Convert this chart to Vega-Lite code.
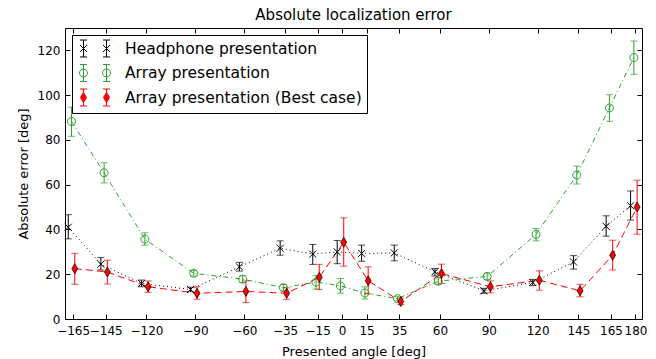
{
  "$schema": "https://vega.github.io/schema/vega-lite/v6.json",
  "width": 577,
  "height": 291,
  "autosize": {"type": "none"},
  "padding": {"left": 65, "top": 28, "right": 14, "bottom": 40},
  "config": {
    "font": "DejaVu Sans",
    "view": {"stroke": "black", "strokeWidth": 1},
    "axis": {
      "labelFont": "DejaVu Sans", "labelFontSize": 12, "labelColor": "black",
      "titleFont": "DejaVu Sans", "titleFontSize": 13, "titleFontWeight": "normal", "titleColor": "black",
      "tickColor": "black", "tickSize": -5, "tickWidth": 1, "domain": false, "grid": false,
      "labelOverlap": false, "labelFlush": false
    },
    "legend": {
      "orient": "top-left", "offset": 7, "padding": 5,
      "strokeColor": "black", "fillColor": "white", "cornerRadius": 0,
      "labelFont": "DejaVu Sans", "labelFontSize": 15.5, "labelColor": "black", "labelLimit": 400,
      "symbolSize": 256, "symbolOffset": 9.5, "labelOffset": 21.5, "rowPadding": 3.5,
      "symbolStrokeWidth": 1, "symbolOpacity": 1
    }
  },
  "title": {"text": "Absolute localization error", "fontSize": 15, "fontWeight": "normal", "font": "DejaVu Sans", "color": "black", "offset": 5, "anchor": "middle"},
  "data": {"values": [
    {"s": "Headphone presentation", "x": -168, "y": 41.0, "lo": 35.8, "hi": 46.6},
    {"s": "Headphone presentation", "x": -148, "y": 24.5, "lo": 21.9, "hi": 27.5},
    {"s": "Headphone presentation", "x": -123, "y": 15.9, "lo": 14.4, "hi": 17.4},
    {"s": "Headphone presentation", "x": -93, "y": 13.2, "lo": 12.2, "hi": 14.2},
    {"s": "Headphone presentation", "x": -63, "y": 23.3, "lo": 21.4, "hi": 25.3},
    {"s": "Headphone presentation", "x": -38, "y": 31.6, "lo": 28.5, "hi": 34.9},
    {"s": "Headphone presentation", "x": -18, "y": 29.0, "lo": 24.4, "hi": 33.3},
    {"s": "Headphone presentation", "x": -3, "y": 30.0, "lo": 24.7, "hi": 35.1},
    {"s": "Headphone presentation", "x": 12, "y": 29.3, "lo": 25.8, "hi": 33.0},
    {"s": "Headphone presentation", "x": 32, "y": 29.5, "lo": 26.0, "hi": 33.0},
    {"s": "Headphone presentation", "x": 57, "y": 21.1, "lo": 19.2, "hi": 22.6},
    {"s": "Headphone presentation", "x": 87, "y": 12.6, "lo": 11.5, "hi": 13.7},
    {"s": "Headphone presentation", "x": 117, "y": 16.3, "lo": 14.9, "hi": 17.7},
    {"s": "Headphone presentation", "x": 142, "y": 25.5, "lo": 22.3, "hi": 28.3},
    {"s": "Headphone presentation", "x": 162, "y": 41.4, "lo": 37.0, "hi": 46.1},
    {"s": "Headphone presentation", "x": 177, "y": 50.6, "lo": 44.2, "hi": 57.2},
    {"s": "Array presentation", "x": -166, "y": 88.2, "lo": 81.6, "hi": 94.6},
    {"s": "Array presentation", "x": -146, "y": 65.3, "lo": 60.8, "hi": 69.8},
    {"s": "Array presentation", "x": -121, "y": 35.7, "lo": 33.0, "hi": 38.5},
    {"s": "Array presentation", "x": -91, "y": 20.4, "lo": 19.2, "hi": 21.6},
    {"s": "Array presentation", "x": -61, "y": 17.8, "lo": 16.3, "hi": 19.3},
    {"s": "Array presentation", "x": -36, "y": 14.0, "lo": 12.6, "hi": 15.4},
    {"s": "Array presentation", "x": -16, "y": 16.5, "lo": 13.4, "hi": 19.4},
    {"s": "Array presentation", "x": -1, "y": 14.8, "lo": 11.5, "hi": 18.1},
    {"s": "Array presentation", "x": 14, "y": 11.6, "lo": 8.9, "hi": 14.4},
    {"s": "Array presentation", "x": 34, "y": 9.1, "lo": 8.1, "hi": 10.1},
    {"s": "Array presentation", "x": 59, "y": 16.9, "lo": 15.5, "hi": 18.4},
    {"s": "Array presentation", "x": 89, "y": 19.0, "lo": 17.6, "hi": 20.5},
    {"s": "Array presentation", "x": 119, "y": 37.8, "lo": 34.9, "hi": 40.4},
    {"s": "Array presentation", "x": 144, "y": 64.3, "lo": 60.3, "hi": 68.3},
    {"s": "Array presentation", "x": 164, "y": 94.3, "lo": 88.3, "hi": 100.2},
    {"s": "Array presentation", "x": 179, "y": 116.8, "lo": 109.3, "hi": 124.2},
    {"s": "Array presentation (Best case)", "x": -164, "y": 22.5, "lo": 15.5, "hi": 29.3},
    {"s": "Array presentation (Best case)", "x": -144, "y": 21.0, "lo": 15.6, "hi": 26.3},
    {"s": "Array presentation (Best case)", "x": -119, "y": 14.4, "lo": 11.9, "hi": 17.0},
    {"s": "Array presentation (Best case)", "x": -89, "y": 11.5, "lo": 8.8, "hi": 14.4},
    {"s": "Array presentation (Best case)", "x": -59, "y": 12.3, "lo": 7.4, "hi": 17.0},
    {"s": "Array presentation (Best case)", "x": -34, "y": 11.5, "lo": 8.8, "hi": 13.9},
    {"s": "Array presentation (Best case)", "x": -14, "y": 18.6, "lo": 13.2, "hi": 24.4},
    {"s": "Array presentation (Best case)", "x": 1, "y": 34.3, "lo": 23.6, "hi": 45.2},
    {"s": "Array presentation (Best case)", "x": 16, "y": 17.1, "lo": 11.2, "hi": 23.3},
    {"s": "Array presentation (Best case)", "x": 36, "y": 7.8, "lo": 6.4, "hi": 9.3},
    {"s": "Array presentation (Best case)", "x": 61, "y": 20.3, "lo": 15.9, "hi": 24.5},
    {"s": "Array presentation (Best case)", "x": 91, "y": 14.4, "lo": 11.7, "hi": 17.0},
    {"s": "Array presentation (Best case)", "x": 121, "y": 17.3, "lo": 12.9, "hi": 21.5},
    {"s": "Array presentation (Best case)", "x": 146, "y": 12.6, "lo": 9.9, "hi": 15.5},
    {"s": "Array presentation (Best case)", "x": 166, "y": 28.5, "lo": 21.9, "hi": 35.2},
    {"s": "Array presentation (Best case)", "x": 181, "y": 50.0, "lo": 37.9, "hi": 62.0}
  ]},
  "layer": [
    {
      "transform": [{"filter": "datum.s === 'Headphone presentation'"}],
      "mark": {"type": "line", "strokeWidth": 1, "stroke": "black", "strokeDash": [1, 3]},
      "encoding": {
        "x": {"field": "x", "type": "quantitative", "scale": {"domain": [-170, 184], "nice": false, "zero": false},
              "axis": {"values": [-165, -145, -120, -90, -60, -35, -15, 0, 15, 35, 60, 90, 120, 145, 165, 180], "title": "Presented angle [deg]", "labelPadding": 11, "titlePadding": 9}},
        "y": {"field": "y", "type": "quantitative", "scale": {"domain": [0, 130], "nice": false},
              "axis": {"values": [0, 20, 40, 60, 80, 100, 120], "title": "Absolute error [deg]", "labelPadding": 10, "titlePadding": 7}},
        "order": {"field": "x", "type": "quantitative"}
      }
    },
    {
      "transform": [{"filter": "datum.s === 'Array presentation'"}],
      "mark": {"type": "line", "strokeWidth": 1, "stroke": "#2ca02c", "strokeDash": [5, 3, 1, 3]},
      "encoding": {
        "x": {"field": "x", "type": "quantitative", "axis": null},
        "y": {"field": "y", "type": "quantitative", "axis": null},
        "order": {"field": "x", "type": "quantitative"}
      }
    },
    {
      "transform": [{"filter": "datum.s === 'Array presentation (Best case)'"}],
      "mark": {"type": "line", "strokeWidth": 1, "stroke": "red", "strokeDash": [7, 4]},
      "encoding": {
        "x": {"field": "x", "type": "quantitative", "axis": null},
        "y": {"field": "y", "type": "quantitative", "axis": null},
        "order": {"field": "x", "type": "quantitative"}
      }
    },
    {
      "mark": {"type": "rule", "strokeWidth": 1},
      "encoding": {
        "x": {"field": "x", "type": "quantitative", "axis": {"orient": "top", "values": [-165, -145, -120, -90, -60, -35, -15, 0, 15, 35, 60, 90, 120, 145, 165, 180], "labels": false, "title": null}},
        "y": {"field": "lo", "type": "quantitative", "axis": {"orient": "right", "values": [0, 20, 40, 60, 80, 100, 120], "labels": false, "title": null}},
        "y2": {"field": "hi"},
        "color": {"field": "s", "type": "nominal", "scale": {"domain": ["Array presentation", "Array presentation (Best case)", "Headphone presentation"], "range": ["#2ca02c", "red", "black"]}, "legend": null}
      }
    },
    {
      "mark": {"type": "tick", "orient": "horizontal", "size": 7, "thickness": 1},
      "encoding": {
        "x": {"field": "x", "type": "quantitative", "axis": null},
        "y": {"field": "lo", "type": "quantitative", "axis": null},
        "color": {"field": "s", "type": "nominal", "legend": null}
      }
    },
    {
      "mark": {"type": "tick", "orient": "horizontal", "size": 7, "thickness": 1},
      "encoding": {
        "x": {"field": "x", "type": "quantitative", "axis": null},
        "y": {"field": "hi", "type": "quantitative", "axis": null},
        "color": {"field": "s", "type": "nominal", "legend": null}
      }
    },
    {
      "transform": [{"filter": "datum.s === 'Headphone presentation'"}],
      "mark": {"type": "point", "shape": "M-0.7,-0.7L0.7,0.7M-0.7,0.7L0.7,-0.7", "size": 100, "filled": false, "stroke": "black", "strokeWidth": 1, "opacity": 1},
      "encoding": {
        "x": {"field": "x", "type": "quantitative", "axis": null},
        "y": {"field": "y", "type": "quantitative", "axis": null}
      }
    },
    {
      "transform": [{"filter": "datum.s === 'Array presentation'"}],
      "mark": {"type": "point", "shape": "M0.8,0A0.8,0.8 0 1,1 -0.8,0A0.8,0.8 0 1,1 0.8,0Z", "size": 100, "filled": false, "stroke": "#2ca02c", "fill": "transparent", "strokeWidth": 1, "opacity": 1},
      "encoding": {
        "x": {"field": "x", "type": "quantitative", "axis": null},
        "y": {"field": "y", "type": "quantitative", "axis": null}
      }
    },
    {
      "transform": [{"filter": "datum.s === 'Array presentation (Best case)'"}],
      "mark": {"type": "point", "shape": "M0,-1L0.6,0L0,1L-0.6,0Z", "size": 100, "filled": true, "fill": "red", "stroke": "black", "strokeWidth": 0.7, "opacity": 1},
      "encoding": {
        "x": {"field": "x", "type": "quantitative", "axis": null},
        "y": {"field": "y", "type": "quantitative", "axis": null}
      }
    },
    {
      "mark": {"type": "point", "filled": false, "size": 256, "opacity": 0, "strokeWidth": 1},
      "encoding": {
        "x": {"field": "x", "type": "quantitative", "axis": null},
        "y": {"field": "y", "type": "quantitative", "axis": null},
        "stroke": {"field": "s", "type": "nominal", "scale": {"domain": ["Headphone presentation", "Array presentation", "Array presentation (Best case)"], "range": ["black", "#2ca02c", "red"]}, "legend": {"title": null}},
        "fill": {"field": "s", "type": "nominal", "scale": {"domain": ["Headphone presentation", "Array presentation", "Array presentation (Best case)"], "range": ["transparent", "transparent", "red"]}, "legend": {"title": null}},
        "shape": {"field": "s", "type": "nominal",
                  "scale": {"domain": ["Headphone presentation", "Array presentation", "Array presentation (Best case)"],
                            "range": [
                              "M-1.44,-1.06L-1.44,1.06M-1.88,-1.06L-1,-1.06M-1.88,1.06L-1,1.06M-1.88,-0.44L-1,0.44M-1.88,0.44L-1,-0.44M1.44,-1.06L1.44,1.06M1,-1.06L1.88,-1.06M1,1.06L1.88,1.06M1,-0.44L1.88,0.44M1,0.44L1.88,-0.44",
                              "M-1.44,-1.06L-1.44,1.06M-1.88,-1.06L-1,-1.06M-1.88,1.06L-1,1.06M-0.94,0A0.5,0.5 0 1,1 -1.94,0A0.5,0.5 0 1,1 -0.94,0ZM1.44,-1.06L1.44,1.06M1,-1.06L1.88,-1.06M1,1.06L1.88,1.06M1.94,0A0.5,0.5 0 1,1 0.94,0A0.5,0.5 0 1,1 1.94,0Z",
                              "M-1.44,-1.06L-1.44,1.06M-1.88,-1.06L-1,-1.06M-1.88,1.06L-1,1.06M-1.44,-0.63L-1.06,0L-1.44,0.63L-1.82,0ZM1.44,-1.06L1.44,1.06M1,-1.06L1.88,-1.06M1,1.06L1.88,1.06M1.44,-0.63L1.82,0L1.44,0.63L1.06,0Z"
                            ]},
                  "legend": {"title": null}}
      }
    }
  ],
  "resolve": {"axis": {"x": "independent", "y": "independent"}}
}
